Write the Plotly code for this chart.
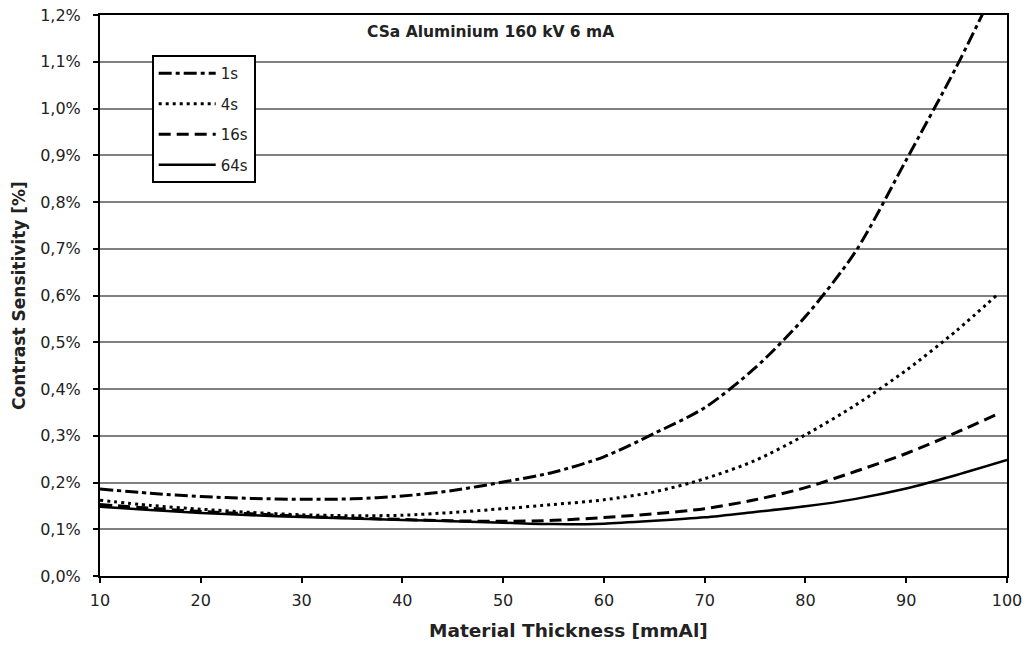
import plotly.graph_objects as go

# Material thickness [mmAl]
thickness = [10, 15, 20, 25, 30, 35, 40, 45, 50, 55, 60, 65, 70, 75, 80, 85, 90, 95, 100]
thickness_short = thickness[:-1] + [99]

# Contrast sensitivity [%] per exposure time
cs_1s = [0.186, 0.177, 0.170, 0.166, 0.164, 0.165, 0.171, 0.183, 0.201, 0.222, 0.255,
         0.305, 0.360, 0.445, 0.555, 0.695, 0.890, 1.090, 1.310]
cs_4s = [0.162, 0.151, 0.143, 0.136, 0.131, 0.129, 0.130, 0.136, 0.144, 0.153, 0.163,
         0.180, 0.208, 0.247, 0.302, 0.366, 0.440, 0.525, 0.601]
cs_16s = [0.153, 0.145, 0.138, 0.133, 0.128, 0.124, 0.121, 0.118, 0.117, 0.119, 0.125,
          0.133, 0.144, 0.163, 0.189, 0.224, 0.262, 0.307, 0.346]
cs_64s = [0.148, 0.141, 0.135, 0.130, 0.126, 0.123, 0.120, 0.117, 0.114, 0.111, 0.112,
          0.118, 0.1255, 0.137, 0.149, 0.165, 0.187, 0.216, 0.248]

x_ticks = [10, 20, 30, 40, 50, 60, 70, 80, 90, 100]
y_ticks = [0.0, 0.1, 0.2, 0.3, 0.4, 0.5, 0.6, 0.7, 0.8, 0.9, 1.0, 1.1, 1.2]
y_tick_labels = ["0,0%", "0,1%", "0,2%", "0,3%", "0,4%", "0,5%", "0,6%",
                 "0,7%", "0,8%", "0,9%", "1,0%", "1,1%", "1,2%"]

series = [
    ("1s", thickness, cs_1s, dict(color="black", width=3, dash="13px,4px,4px,4px")),
    ("4s", thickness_short, cs_4s, dict(color="black", width=3, dash="3px,4px")),
    ("16s", thickness_short, cs_16s, dict(color="black", width=3, dash="12px,6px")),
    ("64s", thickness, cs_64s, dict(color="black", width=2.5)),
]

FONT = "DejaVu Sans"
TEXT = "#222"

fig = go.Figure()
for name, xs, ys, line in series:
    fig.add_trace(go.Scatter(
        x=xs, y=ys, name=name, mode="lines",
        line=dict(shape="spline", smoothing=0.8, **line),
        legendgroup=name,
    ))

fig.update_layout(
    width=1025, height=645,
    margin=dict(l=100, r=18, t=15, b=69),
    paper_bgcolor="white", plot_bgcolor="white",
    font=dict(family=FONT, size=16, color=TEXT),
    showlegend=True,
    legend=dict(
        x=0.057, y=0.9287, xanchor="left", yanchor="top",
        bordercolor="black", borderwidth=2, bgcolor="white",
        font=dict(family=FONT, size=15, color=TEXT),
        tracegroupgap=8, itemwidth=57,
    ),
    annotations=[
        dict(text="<b>CSa Aluminium 160 kV 6 mA</b>",
             xref="paper", yref="paper", x=0.43, y=0.97,
             xanchor="center", yanchor="middle", showarrow=False,
             font=dict(family=FONT, size=15.5, color=TEXT)),
        # x-axis title, set slightly right of the plot centre
        dict(text="<b>Material Thickness [mmAl]</b>",
             xref="paper", yref="paper", x=0.516, y=-0.098,
             xanchor="center", yanchor="middle", showarrow=False,
             font=dict(family=FONT, size=18.5, color=TEXT)),
    ],
)

fig.update_xaxes(
    range=[10, 100], tickvals=x_ticks, automargin=False,
    showline=True, linecolor="black", linewidth=2, mirror=True,
    ticks="outside", ticklen=5, tickwidth=1.5, tickcolor="black",
    ticklabelstandoff=4,
    showgrid=False, zeroline=False,
)
fig.update_yaxes(
    range=[0, 1.2], tickvals=y_ticks, ticktext=y_tick_labels, automargin=False,
    showline=True, linecolor="black", linewidth=2, mirror=True,
    ticks="outside", ticklen=5, tickwidth=1.5, tickcolor="black",
    ticklabelstandoff=9,
    showgrid=True, gridcolor="#808080", gridwidth=1.5, zeroline=False,
    title=dict(text="<b>Contrast Sensitivity [%]</b>", standoff=10,
               font=dict(family=FONT, size=17, color=TEXT)),
)

fig.write_html("out.html")
